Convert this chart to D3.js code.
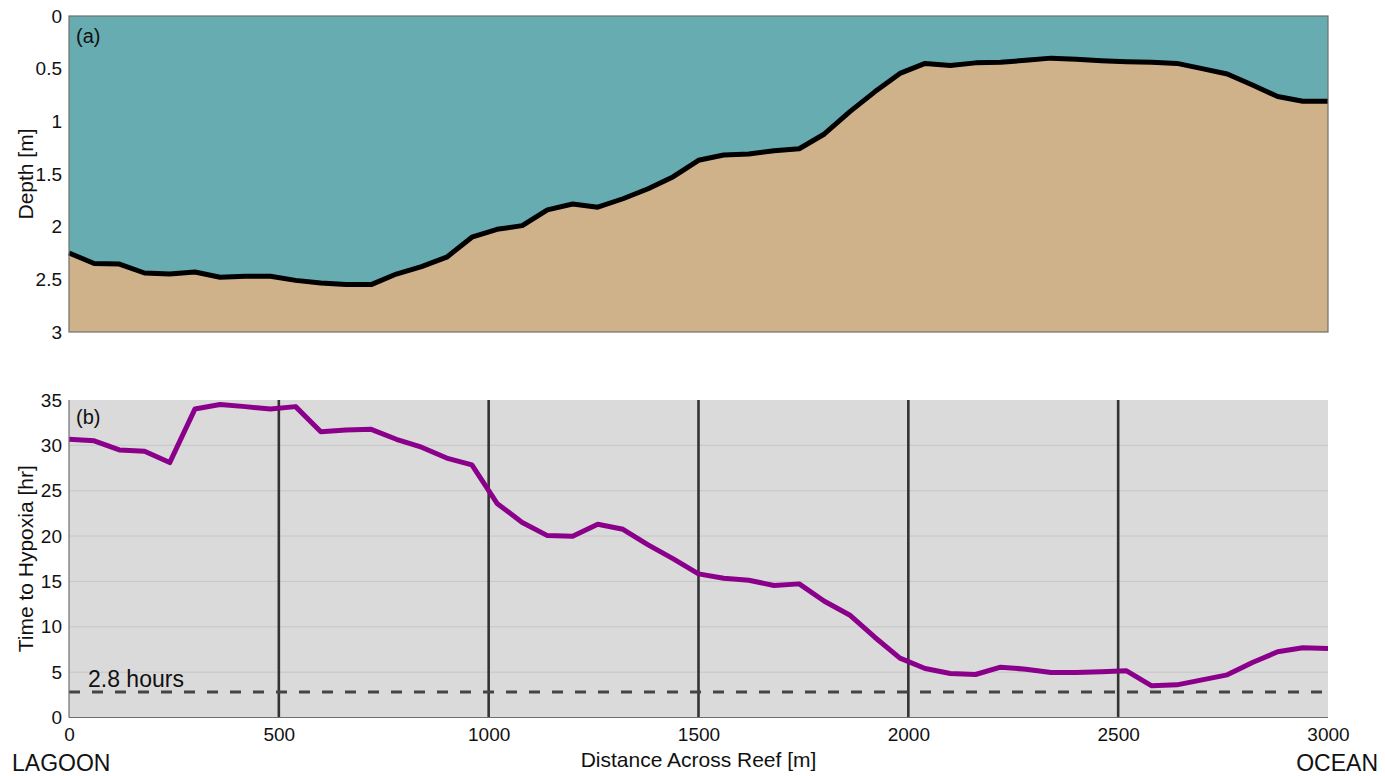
<!DOCTYPE html>
<html>
<head>
<meta charset="utf-8">
<script src="https://cdn.jsdelivr.net/npm/d3@7"></script>
<style>
  html, body { margin: 0; padding: 0; background: #fff; }
  svg { display: block; font-family: "Liberation Sans", Arial, Helvetica, sans-serif; }
</style>
</head>
<body>
<svg id="chart" width="1385" height="776"></svg>
<script>
// ---- Data ----
const distance = d3.range(0, 3001, 60); // m, 51 stations
const depth = [2.25, 2.35, 2.355, 2.44, 2.45, 2.43, 2.48, 2.47, 2.47, 2.51,
  2.535, 2.55, 2.55, 2.45, 2.38, 2.29, 2.10, 2.025, 1.99, 1.84,
  1.785, 1.815, 1.735, 1.64, 1.525, 1.37, 1.32, 1.31, 1.28, 1.26,
  1.12, 0.91, 0.72, 0.545, 0.45, 0.47, 0.445, 0.44, 0.42, 0.40,
  0.41, 0.425, 0.435, 0.44, 0.45, 0.50, 0.55, 0.655, 0.765, 0.81, 0.81];
const hypoxia = [30.67, 30.5, 29.5, 29.35, 28.1, 34.0, 34.5, 34.27, 34.0, 34.27,
  31.5, 31.7, 31.77, 30.67, 29.8, 28.6, 27.84, 23.6, 21.5, 20.05,
  19.98, 21.3, 20.75, 19.03, 17.48, 15.83, 15.35, 15.13, 14.55, 14.73,
  12.82, 11.3, 8.85, 6.54, 5.4, 4.85, 4.74, 5.55, 5.33, 4.96,
  4.96, 5.03, 5.14, 3.49, 3.6, 4.15, 4.7, 6.06, 7.24, 7.68, 7.6];
const xTicks = [0, 500, 1000, 1500, 2000, 2500, 3000];
const depthTicks = [0, 0.5, 1, 1.5, 2, 2.5, 3];
const hypTicks = [0, 5, 10, 15, 20, 25, 30, 35];
const gridHyp = [5, 10, 15, 20, 25, 30];
const vLines = [500, 1000, 1500, 2000, 2500];
const threshold = 2.8;

// ---- Layout ----
const svg = d3.select("#chart");
const L = 69, R = 1328;
const topA = 16, botA = 332;
const topB = 400, botB = 717.5;
const font = "Liberation Sans, Arial, Helvetica, sans-serif";
const tickFS = 19, labFS = 21;

const x = d3.scaleLinear().domain([0, 3000]).range([L, R]);
const yA = d3.scaleLinear().domain([0, 3]).range([topA, botA]);
const yB = d3.scaleLinear().domain([0, 35]).range([botB, topB]);

const pts = distance.map((d, i) => ({ x: d, dep: depth[i], h: hypoxia[i] }));

// ---- Panel (a) ----
const gA = svg.append("g");
gA.append("rect").attr("x", L).attr("y", topA).attr("width", R - L).attr("height", botA - topA)
  .attr("fill", "#67acb0");
gA.append("path").datum(pts)
  .attr("d", d3.area().x(d => x(d.x)).y0(botA).y1(d => yA(d.dep)))
  .attr("fill", "#d0b28a");
gA.append("path").datum(pts)
  .attr("d", d3.line().x(d => x(d.x)).y(d => yA(d.dep)))
  .attr("fill", "none").attr("stroke", "#000").attr("stroke-width", 5).attr("stroke-linejoin", "round");
gA.append("rect").attr("x", L).attr("y", topA).attr("width", R - L).attr("height", botA - topA)
  .attr("fill", "none").attr("stroke", "#6e6e6e").attr("stroke-width", 1.2);

const axA = d3.axisLeft(yA).tickValues(depthTicks).tickSize(0).tickPadding(7)
  .tickFormat(d3.format(""));
const gAx = svg.append("g").attr("transform", `translate(${L},0)`).call(axA);
gAx.select(".domain").remove();
gAx.selectAll("text").attr("font-size", tickFS).attr("font-family", font).attr("fill", "#111");

gA.append("text").attr("x", 76).attr("y", 43).text("(a)")
  .attr("font-size", 20).attr("font-family", font).attr("fill", "#111");

svg.append("text").attr("transform", `translate(33,${(topA + botA) / 2}) rotate(-90)`)
  .attr("text-anchor", "middle").attr("font-size", labFS).attr("font-family", font).attr("fill", "#111")
  .text("Depth [m]");

// ---- Panel (b) ----
const gB = svg.append("g");
gB.append("rect").attr("x", L).attr("y", topB).attr("width", R - L).attr("height", botB - topB)
  .attr("fill", "#dadada");
gB.selectAll("line.grid").data(gridHyp).enter().append("line")
  .attr("x1", L).attr("x2", R).attr("y1", d => yB(d)).attr("y2", d => yB(d))
  .attr("stroke", "#c6c6c6").attr("stroke-width", 1);
gB.selectAll("line.vl").data(vLines).enter().append("line")
  .attr("x1", d => x(d)).attr("x2", d => x(d)).attr("y1", topB).attr("y2", botB)
  .attr("stroke", "#333").attr("stroke-width", 2.6);
gB.append("line").attr("x1", L).attr("x2", R).attr("y1", yB(threshold)).attr("y2", yB(threshold))
  .attr("stroke", "#444").attr("stroke-width", 3).attr("stroke-dasharray", "11,12");
gB.append("path").datum(pts)
  .attr("d", d3.line().x(d => x(d.x)).y(d => yB(d.h)))
  .attr("fill", "none").attr("stroke", "#8b008b").attr("stroke-width", 5).attr("stroke-linejoin", "round");
gB.append("line").attr("x1", L).attr("x2", L).attr("y1", topB).attr("y2", botB)
  .attr("stroke", "#6e6e6e").attr("stroke-width", 1.2);
gB.append("line").attr("x1", L).attr("x2", R).attr("y1", botB).attr("y2", botB)
  .attr("stroke", "#6e6e6e").attr("stroke-width", 1.2);

const axB = d3.axisLeft(yB).tickValues(hypTicks).tickSize(0).tickPadding(7).tickFormat(d3.format("d"));
const gBy = svg.append("g").attr("transform", `translate(${L},0)`).call(axB);
gBy.select(".domain").remove();
gBy.selectAll("text").attr("font-size", tickFS).attr("font-family", font).attr("fill", "#111");

const axX = d3.axisBottom(x).tickValues(xTicks).tickSize(0).tickPadding(10).tickFormat(d3.format("d"));
const gBx = svg.append("g").attr("transform", `translate(0,${botB})`).call(axX);
gBx.select(".domain").remove();
gBx.selectAll("text").attr("font-size", tickFS).attr("font-family", font).attr("fill", "#111");

gB.append("text").attr("x", 76).attr("y", 424).text("(b)")
  .attr("font-size", 20).attr("font-family", font).attr("fill", "#111");
gB.append("text").attr("x", 88).attr("y", 687).text("2.8 hours")
  .attr("font-size", 23).attr("font-family", font).attr("fill", "#111");

svg.append("text").attr("transform", `translate(33,${(topB + botB) / 2}) rotate(-90)`)
  .attr("text-anchor", "middle").attr("font-size", labFS).attr("font-family", font).attr("fill", "#111")
  .text("Time to Hypoxia [hr]");

svg.append("text").attr("x", (L + R) / 2).attr("y", 767).attr("text-anchor", "middle")
  .attr("font-size", labFS).attr("font-family", font).attr("fill", "#111").text("Distance Across Reef [m]");
svg.append("text").attr("x", 12).attr("y", 771)
  .attr("font-size", 23).attr("font-family", font).attr("fill", "#111").text("LAGOON");
svg.append("text").attr("x", 1378).attr("y", 771).attr("text-anchor", "end")
  .attr("font-size", 23).attr("font-family", font).attr("fill", "#111").text("OCEAN");
</script>
</body>
</html>
